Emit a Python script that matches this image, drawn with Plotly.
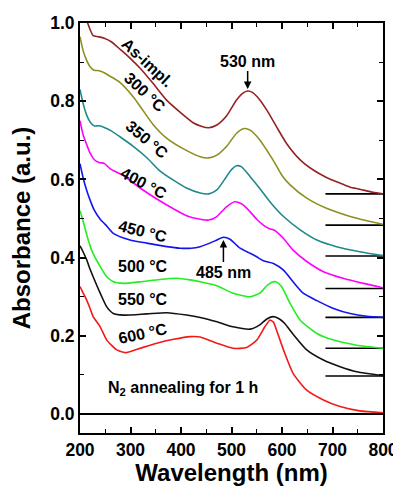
import plotly.graph_objects as go

# ---- data ----
wl_asimpl = [210, 218, 226, 236, 248, 262, 280, 300, 320, 345, 372, 398, 424, 440, 455, 471, 490, 510, 522, 532, 542, 555, 570, 589, 609, 636, 662, 688, 708, 735, 754, 780, 800]
ab_asimpl = [1.02, 0.99, 0.968, 0.965, 0.961, 0.952, 0.932, 0.909, 0.883, 0.845, 0.802, 0.772, 0.745, 0.736, 0.732, 0.739, 0.762, 0.803, 0.82, 0.826, 0.822, 0.805, 0.777, 0.735, 0.692, 0.65, 0.624, 0.605, 0.594, 0.58, 0.575, 0.567, 0.563]

wl_300 = [200, 206, 213, 220, 228, 238, 248, 258, 279, 306, 320, 345, 372, 405, 438, 455, 471, 490, 510, 525, 537, 556, 583, 600, 616, 649, 688, 735, 768, 800]
ab_300 = [0.965, 0.93, 0.905, 0.888, 0.879, 0.878, 0.873, 0.865, 0.848, 0.81, 0.785, 0.74, 0.705, 0.678, 0.658, 0.655, 0.662, 0.684, 0.718, 0.73, 0.726, 0.701, 0.648, 0.61, 0.586, 0.552, 0.526, 0.505, 0.494, 0.485]

wl_350 = [200, 206, 213, 220, 228, 238, 248, 262, 279, 306, 332, 358, 385, 411, 438, 455, 471, 490, 500, 510, 520, 537, 556, 576, 603, 636, 669, 708, 754, 800]
ab_350 = [0.83, 0.795, 0.765, 0.747, 0.737, 0.737, 0.733, 0.724, 0.709, 0.684, 0.656, 0.622, 0.598, 0.578, 0.565, 0.563, 0.573, 0.607, 0.625, 0.635, 0.632, 0.607, 0.577, 0.543, 0.505, 0.471, 0.445, 0.428, 0.415, 0.405]

wl_400 = [200, 206, 213, 220, 228, 238, 248, 260, 286, 319, 352, 385, 411, 438, 455, 471, 490, 507, 523, 537, 550, 563, 575, 585, 603, 622, 649, 682, 721, 761, 800]
ab_400 = [0.75, 0.715, 0.69, 0.667, 0.651, 0.643, 0.641, 0.627, 0.61, 0.578, 0.55, 0.525, 0.507, 0.498, 0.496, 0.505, 0.53, 0.543, 0.535, 0.517, 0.498, 0.483, 0.474, 0.47, 0.449, 0.419, 0.39, 0.364, 0.347, 0.334, 0.323]

wl_450 = [200, 206, 213, 220, 228, 240, 250, 266, 299, 332, 372, 398, 420, 438, 457, 471, 484, 497, 517, 537, 550, 563, 583, 603, 622, 642, 669, 702, 735, 768, 800]
ab_450 = [0.64, 0.605, 0.573, 0.547, 0.522, 0.498, 0.485, 0.462, 0.445, 0.437, 0.428, 0.424, 0.424, 0.428, 0.437, 0.445, 0.452, 0.447, 0.424, 0.411, 0.402, 0.392, 0.385, 0.368, 0.338, 0.309, 0.29, 0.27, 0.257, 0.25, 0.247]

wl_500 = [200, 207, 213, 220, 226, 240, 253, 266, 286, 319, 358, 391, 418, 438, 471, 503, 537, 556, 570, 580, 588, 599, 616, 636, 669, 702, 748, 800]
ab_500 = [0.52, 0.49, 0.46, 0.43, 0.41, 0.377, 0.351, 0.338, 0.334, 0.338, 0.344, 0.347, 0.343, 0.338, 0.328, 0.309, 0.3, 0.309, 0.328, 0.337, 0.338, 0.326, 0.283, 0.24, 0.206, 0.189, 0.176, 0.168]

wl_550 = [200, 206, 213, 220, 226, 240, 253, 266, 286, 332, 372, 411, 438, 471, 503, 537, 556, 570, 583, 595, 605, 622, 649, 682, 715, 748, 800]
ab_550 = [0.43, 0.415, 0.395, 0.37, 0.351, 0.309, 0.274, 0.257, 0.253, 0.256, 0.259, 0.253, 0.247, 0.236, 0.223, 0.217, 0.228, 0.243, 0.249, 0.243, 0.232, 0.204, 0.164, 0.138, 0.121, 0.108, 0.098]

wl_600 = [200, 206, 213, 220, 226, 240, 253, 273, 292, 319, 352, 385, 418, 438, 471, 503, 530, 550, 566, 576, 583, 589, 603, 622, 649, 682, 715, 754, 800]
ab_600 = [0.326, 0.31, 0.292, 0.27, 0.249, 0.223, 0.189, 0.164, 0.157, 0.168, 0.181, 0.191, 0.198, 0.197, 0.181, 0.168, 0.17, 0.189, 0.223, 0.24, 0.235, 0.215, 0.164, 0.104, 0.061, 0.036, 0.019, 0.008, 0.003]

series_names = ["As-impl.", "300 °C", "350 °C", "400 °C", "450 °C", "500 °C", "550 °C", "600 °C"]
series_x = [wl_asimpl, wl_300, wl_350, wl_400, wl_450, wl_500, wl_550, wl_600]
series_y = [ab_asimpl, ab_300, ab_350, ab_400, ab_450, ab_500, ab_550, ab_600]
series_colors = ["#962222", "#8F8F20", "#1F8A8A", "#FF00FF", "#1414F0", "#22EE22", "#111111", "#F01A1A"]

# baseline markers (short horizontal lines at right)
baseline_levels = [0.563, 0.483, 0.404, 0.321, 0.247, 0.168, 0.097]
baseline_span = [686, 800]

# label positions / angles
label_x = [333, 329, 332, 327, 325, 325, 325, 325]
label_y = [0.899, 0.822, 0.701, 0.59, 0.467, 0.377, 0.292, 0.207]
label_angle = [43, 43, 40, 28, 14, 0, 0, -12]

# peak markers
peak_text = ["530 nm", "485 nm"]
peak_x = [532, 484]
peak_y = [0.831, 0.445]
peak_dy = [-28, 32]

FONT = "Liberation Sans, Arial, Helvetica, sans-serif"

fig = go.Figure()

for lvl in baseline_levels:
    fig.add_trace(go.Scatter(x=baseline_span, y=[lvl, lvl], mode="lines",
                             line=dict(color="black", width=1.6), showlegend=False,
                             hoverinfo="skip"))

for name, xs, ys, col in zip(series_names, series_x, series_y, series_colors):
    fig.add_trace(go.Scatter(x=xs, y=ys, mode="lines", name=name,
                             line=dict(color=col, width=1.6, shape="spline", smoothing=0.6),
                             showlegend=False))

annotations = []
for name, lx, ly, ang in zip(series_names, label_x, label_y, label_angle):
    annotations.append(dict(x=lx, y=ly, text=name, showarrow=False, textangle=ang,
                            font=dict(family=FONT, size=16, color="black", weight="bold")))

for t, px, py, dy in zip(peak_text, peak_x, peak_y, peak_dy):
    annotations.append(dict(x=px, y=py, ax=0, ay=dy, text=t, showarrow=True,
                            arrowhead=2, arrowsize=1, arrowwidth=1.5, arrowcolor="black",
                            font=dict(family=FONT, size=16, color="black", weight="bold")))

annotations.append(dict(x=404, y=0.066, text="N<sub>2</sub> annealing for 1 h", showarrow=False,
                        font=dict(family=FONT, size=16, color="black", weight="bold")))

# page body has an 8px margin: size the figure so the plot lands where the reference's does
fig.update_layout(
    width=393, height=478,
    margin=dict(l=72, r=18, t=15, b=53, autoexpand=False),
    plot_bgcolor="white", paper_bgcolor="white",
    annotations=annotations,
    font=dict(family=FONT, color="black"),
)

fig.update_xaxes(
    range=[200, 800], dtick=100, tick0=200, automargin=False,
    showline=True, linewidth=2, linecolor="black", mirror="allticks",
    ticks="inside", ticklen=6, tickwidth=1.6, tickcolor="black",
    minor=dict(ticks="inside", ticklen=4, dtick=50, tickwidth=1.4, tickcolor="black"),
    showgrid=False, zeroline=False,
    tickfont=dict(family=FONT, size=17.5, color="black", weight="bold"),
    title=dict(text="Wavelength (nm)", standoff=4,
               font=dict(family=FONT, size=24, color="black", weight="bold")),
)
fig.update_yaxes(
    range=[-0.0486, 1.0], dtick=0.2, tick0=0, tickformat=".1f", automargin=False,
    showline=True, linewidth=2, linecolor="black", mirror="allticks",
    ticks="inside", ticklen=6, tickwidth=1.6, tickcolor="black",
    minor=dict(ticks="inside", ticklen=4, dtick=0.1, tickwidth=1.4, tickcolor="black"),
    showgrid=False, zeroline=True, zerolinecolor="black", zerolinewidth=2,
    tickfont=dict(family=FONT, size=17.5, color="black", weight="bold"),
    title=dict(text="Absorbance (a.u.)", standoff=15,
               font=dict(family=FONT, size=24, color="black", weight="bold")),
)

fig.write_html("out.html")
